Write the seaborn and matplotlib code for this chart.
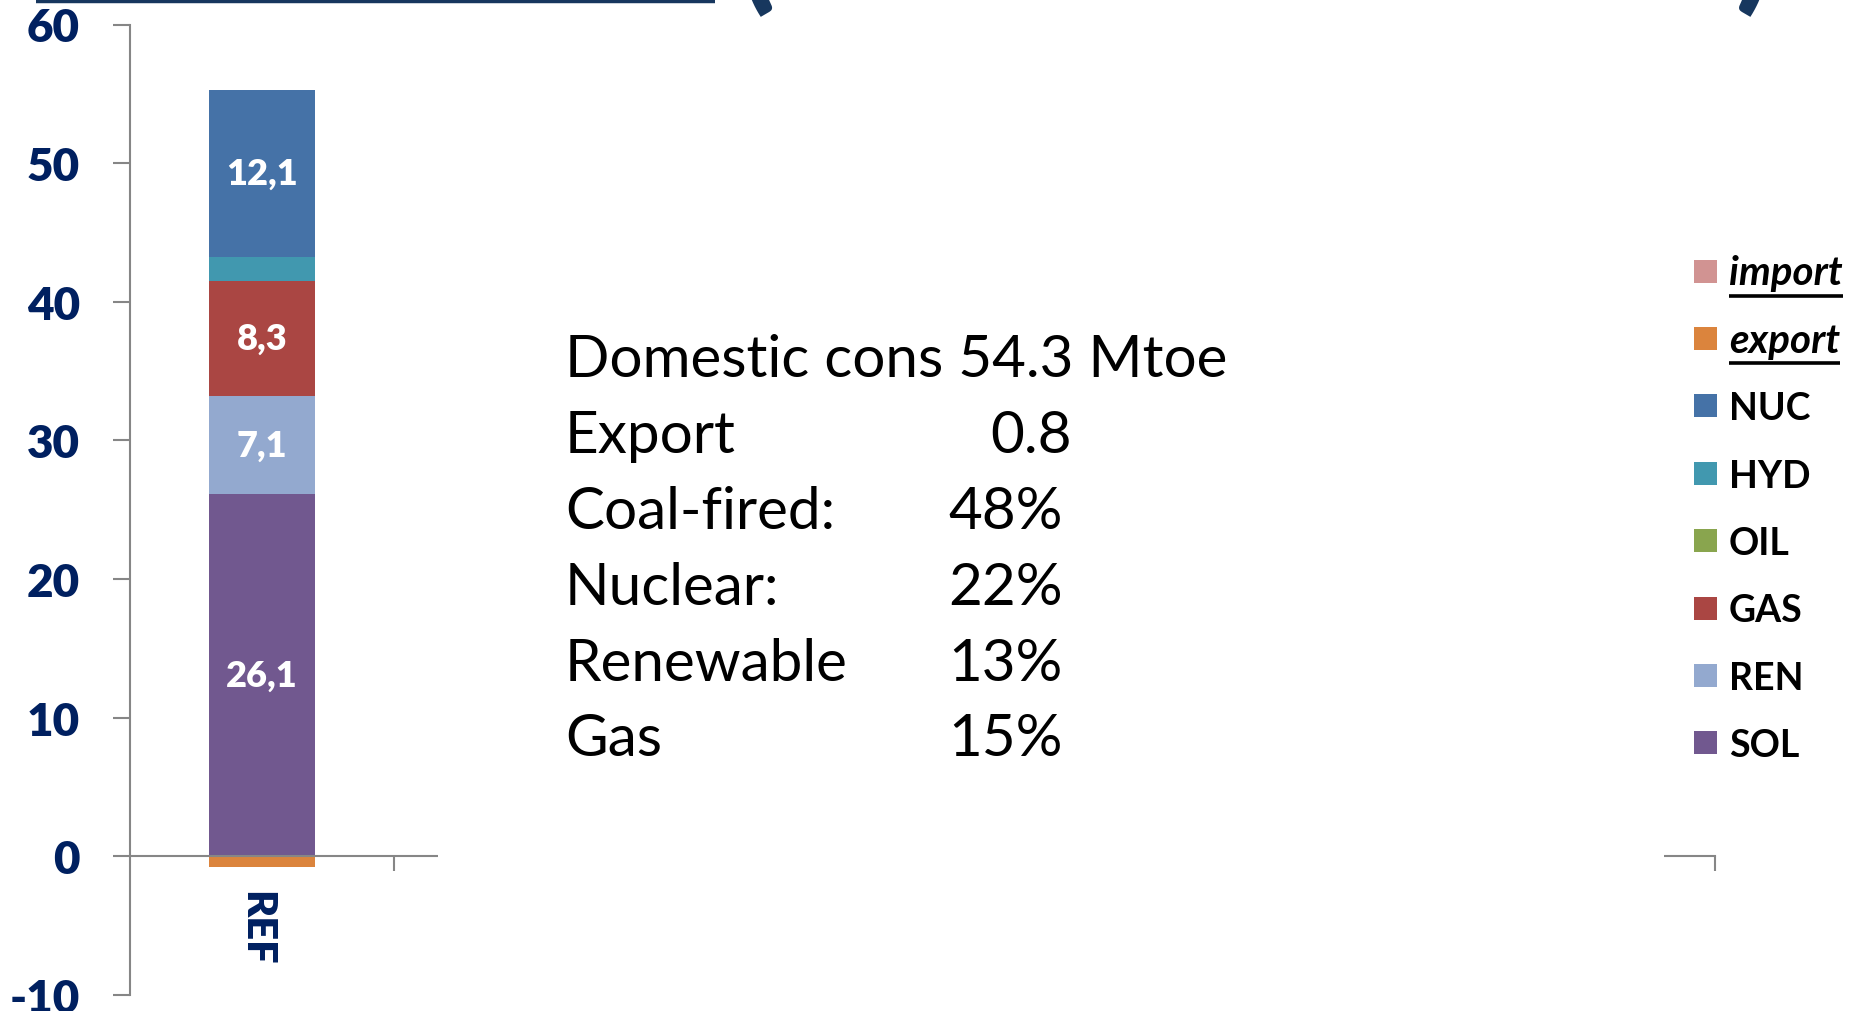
import matplotlib
matplotlib.use("Agg")
import matplotlib.pyplot as plt
from matplotlib.patches import Rectangle
from matplotlib.lines import Line2D
import seaborn as sns

# ---- data -------------------------------------------------------------
scenario = "REF"
series = ["SOL", "REN", "GAS", "OIL", "HYD", "NUC", "export", "import"]
values = [26.1, 7.1, 8.3, 0.0, 1.7, 12.1, -0.8, 0.0]
colors = ["#71588F", "#93A9CF", "#AA4643", "#89A54E",
          "#4198AF", "#4572A7", "#DB843D", "#D19392"]
labelled = ["SOL", "REN", "GAS", "NUC"]

summary_labels = ["Domestic cons 54.3 Mtoe", "Export", "Coal-fired:",
                  "Nuclear:", "Renewable", "Gas"]
summary_values = ["", "0.8", "48%", "22%", "13%", "15%"]

y_ticks = [-10, 0, 10, 20, 30, 40, 50, 60]

# ---- style ------------------------------------------------------------
W, H = 1868, 1012
NAVY = "#002060"
AXIS_GREY = "#868686"
TITLE_BLUE = "#17375E"

sns.set_theme(style="ticks")
plt.rcParams["font.family"] = ["Lato", "DejaVu Sans"]
plt.rcParams["axes.unicode_minus"] = False

fig = plt.figure(figsize=(W / 100, H / 100), dpi=100)
fig.patch.set_facecolor("white")
ax = fig.add_axes([130 / W, 1 - 996 / H, (1715 - 130) / W, (996 - 25.5) / H])
ax.set_facecolor("white")

# ---- stacked bar ------------------------------------------------------
pos_base, neg_base = 0.0, 0.0
for name, val, col in zip(series, values, colors):
    base = pos_base if val >= 0 else neg_base
    sns.barplot(x=[scenario], y=[val], bottom=base, color=col, saturation=1,
                width=0.4, errorbar=None, linewidth=0, edgecolor="none", ax=ax)
    if name in labelled:
        ax.bar_label(ax.containers[-1],
                     labels=[f"{val:.1f}".replace(".", ",")],
                     label_type="center", color="white",
                     fontsize=26, fontweight="heavy")
    if val >= 0:
        pos_base += val
    else:
        neg_base += val

# ---- axes -------------------------------------------------------------
ax.set_ylim(-10, 60)
ax.set_xlim(-0.5, 5.5)
ax.set_yticks(y_ticks)
ax.set_xticks([0.5, 1.5, 2.5, 3.5, 4.5, 5.5])
ax.set_xticklabels([])
ax.set_xlabel("")
ax.set_ylabel("")

ax.tick_params(axis="x", which="major", bottom=True, direction="out",
               length=11, width=1.5, color=AXIS_GREY)
ax.tick_params(axis="y", left=True, direction="out", length=12.2, width=1.5,
               color=AXIS_GREY, pad=23.8, labelsize=33, labelcolor=NAVY)
for lbl in ax.get_yticklabels():
    lbl.set_fontweight("heavy")

# category name under the bar, rotated like the source axis label
ax.annotate(scenario, xy=(0, 0), xycoords="data", xytext=(-4, -24.5),
            textcoords="offset points", rotation=270, ha="center", va="top",
            fontsize=30, fontweight="heavy", color=NAVY)

for side in ("top", "right"):
    ax.spines[side].set_visible(False)
ax.spines["left"].set_color(AXIS_GREY)
ax.spines["left"].set_linewidth(1.5)
ax.spines["bottom"].set_color(AXIS_GREY)
ax.spines["bottom"].set_linewidth(1.5)
ax.spines["bottom"].set_position(("data", 0))
ax.grid(False)


def fx(px):
    return px / W


def fy(py):
    return 1 - py / H


# ---- summary text box -------------------------------------------------
fig.add_artist(Rectangle((fx(438), fy(900)), (1664 - 438) / W, (900 - 250) / H,
                         transform=fig.transFigure, facecolor="white",
                         edgecolor="none", zorder=5))
baselines = [377, 453, 529, 605, 681, 756]
value_x = [None, 990, 948, 948, 948, 948]
for lab, val, vx, by in zip(summary_labels, summary_values, value_x, baselines):
    fig.text(fx(565), fy(by), lab, fontsize=42, color="black",
             ha="left", va="baseline", zorder=6)
    if val:
        fig.text(fx(vx), fy(by), val, fontsize=42, color="black",
                 ha="left", va="baseline", zorder=6)

# ---- legend -----------------------------------------------------------
leg_y0, leg_dy = 272, 67.4
leg_texts = []
for i, (name, col) in enumerate(zip(series[::-1], colors[::-1])):
    cy = leg_y0 + i * leg_dy
    fig.add_artist(Rectangle((fx(1694), fy(cy + 11.5)), 23 / W, 23 / H,
                             transform=fig.transFigure, facecolor=col,
                             edgecolor="none"))
    trade = name in ("import", "export")
    t = fig.text(fx(1729), fy(cy + 13.5), name,
                 fontsize=29 if trade else 27, fontweight="bold",
                 fontstyle="italic" if trade else "normal", color="black",
                 ha="left", va="baseline")
    if trade:
        leg_texts.append((t, cy + 13.5))

fig.canvas.draw()
for t, by in leg_texts:
    bb = t.get_window_extent()
    fig.add_artist(Line2D([bb.x0 / W, bb.x1 / W], [fy(by + 11)] * 2,
                          transform=fig.transFigure, color="black", lw=2.6,
                          solid_capstyle="butt"))

# ---- heading band at the top edge ------------------------------------
fig.add_artist(Line2D([fx(36), fx(715)], [fy(2), fy(2)],
                      transform=fig.transFigure, color=TITLE_BLUE, lw=3.2,
                      solid_capstyle="butt"))
fig.text(fx(739), fy(-4), "(", fontsize=90, fontweight="heavy",
         color=TITLE_BLUE, ha="left", va="baseline")
fig.text(fx(1735), fy(-4), ")", fontsize=90, fontweight="heavy",
         color=TITLE_BLUE, ha="left", va="baseline")

fig.savefig("out.png", dpi=100, facecolor="white")
